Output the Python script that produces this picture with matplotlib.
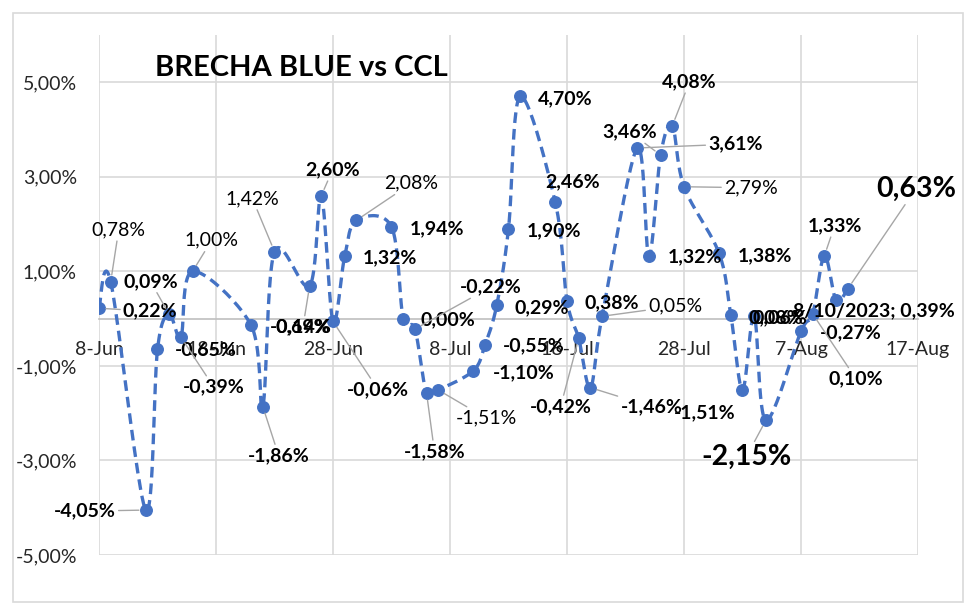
import numpy as np
import pandas as pd
import matplotlib
matplotlib.use('Agg')
import matplotlib.pyplot as plt
import matplotlib.dates as mdates
from matplotlib.patches import Rectangle

plt.rcParams['font.family'] = ['Lato', 'DejaVu Sans']

# datos: brecha blue vs CCL (%)
fechas = ['2023-06-08', '2023-06-09', '2023-06-12', '2023-06-13', '2023-06-14',
          '2023-06-15', '2023-06-16', '2023-06-21', '2023-06-22', '2023-06-23',
          '2023-06-26', '2023-06-27', '2023-06-28', '2023-06-29', '2023-06-30',
          '2023-07-03', '2023-07-04', '2023-07-05', '2023-07-06', '2023-07-07',
          '2023-07-10', '2023-07-11', '2023-07-12', '2023-07-13', '2023-07-14',
          '2023-07-17', '2023-07-18', '2023-07-19', '2023-07-20', '2023-07-21',
          '2023-07-24', '2023-07-25', '2023-07-26', '2023-07-27', '2023-07-28',
          '2023-07-31', '2023-08-01', '2023-08-02', '2023-08-03', '2023-08-04',
          '2023-08-07', '2023-08-08', '2023-08-09', '2023-08-10', '2023-08-11']
brecha = [0.22, 0.78, -4.05, -0.65, 0.09, -0.39, 1.00, -0.14, -1.86, 1.42,
          0.69, 2.60, -0.06, 1.32, 2.08, 1.94, 0.00, -0.22, -1.58, -1.51,
          -1.10, -0.55, 0.29, 1.90, 4.70, 2.46, 0.38, -0.42, -1.46, 0.05,
          3.61, 1.32, 3.46, 4.08, 2.79, 1.38, 0.08, -1.51, 0.06, -2.15,
          -0.27, 0.10, 1.33, 0.39, 0.63]
y_ticks = [-5, -3, -1, 1, 3, 5]
titulo = 'BRECHA BLUE vs CCL'

etiquetas = [('%.2f' % v).replace('.', ',') + '%' for v in brecha]
etiquetas[43] = '8/10/2023; ' + etiquetas[43]

# posicion de cada etiqueta (pixeles respecto al punto), alineacion, negrita, linea guia, tamaño
lbl = [
    (24, -3, 'left', True, True, 14), (-19, 52, 'left', False, True, 14),
    (-30, -1, 'right', True, True, 14), (17, 0, 'left', True, False, 14),
    (-46, 33, 'left', True, True, 14), (2, -50, 'left', True, True, 14),
    (-8, 31, 'left', False, True, 14), (19, -1, 'left', True, False, 14),
    (-15, -49, 'left', True, True, 14), (-49, 53, 'left', False, True, 14),
    (-34, -41, 'left', True, True, 14), (-16, 26, 'left', True, True, 14),
    (14, -68, 'left', True, True, 14), (18, -2, 'left', True, False, 14),
    (28, 37, 'left', False, True, 14), (18, -2, 'left', True, False, 14),
    (17, -1, 'left', True, False, 14), (45, 42, 'left', True, True, 14),
    (-23, -58, 'left', True, True, 14), (17, -28, 'left', False, True, 14),
    (19, -2, 'left', True, False, 14), (18, -1, 'left', True, False, 14),
    (18, -3, 'left', True, False, 14), (18, -2, 'left', True, False, 14),
    (18, -2, 'left', True, False, 14), (-10, 21, 'left', True, False, 14),
    (18, -2, 'left', True, False, 14), (-49, -68, 'left', True, True, 14),
    (30, -19, 'left', True, True, 14), (46, 10, 'left', False, True, 14),
    (71, 4, 'left', True, True, 14), (19, -1, 'left', True, False, 14),
    (-58, 23, 'left', True, True, 14), (-10, 44, 'left', True, True, 14),
    (40, -1, 'left', False, True, 14), (19, -2, 'left', True, False, 14),
    (18, -3, 'left', True, False, 14), (-7, -23, 'right', True, False, 14),
    (-2, -2, 'left', True, False, 14), (-65, -37, 'left', True, True, 20.5),
    (19, -1, 'left', True, False, 14), (16, -65, 'left', True, True, 14),
    (-17, 30, 'left', True, True, 14), (-43, -11, 'left', True, False, 14),
    (28, 100, 'left', True, True, 20.5),
]

azul = '#4472C4'
gris = '#D9D9D9'

fig = plt.figure(figsize=(9.8, 6.13), dpi=100)
fig.patches.append(Rectangle((13 / 980, 11 / 613), 950 / 980, 589 / 613,
                             transform=fig.transFigure, fill=False,
                             edgecolor=gris, lw=1.2))
ax = fig.add_axes([99 / 980, 58 / 613, 819 / 980, 520 / 613])

x = mdates.date2num(pd.to_datetime(fechas))
y = np.array(brecha)

ax.set_xlim(mdates.date2num(pd.Timestamp('2023-06-08')),
            mdates.date2num(pd.Timestamp('2023-08-17')))
ax.set_ylim(-5, 6)

xt = pd.date_range('2023-06-08', '2023-08-17', freq='10D')
ax.set_xticks(mdates.date2num(xt))
ax.set_xticklabels(['%d-%s' % (d.day, d.strftime('%b')) for d in xt])
ax.set_yticks(y_ticks)
ax.set_yticklabels([('%.2f' % v).replace('.', ',') + '%' for v in y_ticks])

for s in ['top', 'right', 'left']:
    ax.spines[s].set_visible(False)
ax.spines['bottom'].set_position(('data', 0))
ax.spines['bottom'].set_color('#BFBFBF')
ax.spines['bottom'].set_linewidth(1.2)
ax.grid(True, color=gris, lw=1.2)
ax.set_axisbelow(True)
ax.tick_params(axis='x', length=0, pad=16, labelsize=14, labelcolor='#262626')
ax.tick_params(axis='y', length=0, pad=16, labelsize=14, labelcolor='#262626')


def curva_suave(P, n=24):
    # bezier tipo excel (catmull-rom) en pixeles
    E = np.vstack([P[0], P, P[-1]])
    t = np.linspace(0, 1, n)[:, None]
    out = []
    for i in range(len(P) - 1):
        p0, p1, p2, p3 = E[i], E[i + 1], E[i + 2], E[i + 3]
        c1 = p1 + (p2 - p0) / 6
        c2 = p2 - (p3 - p1) / 6
        seg = (1 - t)**3 * p1 + 3 * (1 - t)**2 * t * c1 + 3 * (1 - t) * t**2 * c2 + t**3 * p2
        out.append(seg if i == 0 else seg[1:])
    return np.vstack(out)


pix = ax.transData.transform(np.column_stack([x, y]))
curva = ax.transData.inverted().transform(curva_suave(pix))
ax.plot(curva[:, 0], curva[:, 1], color=azul, lw=2.4, ls=(0, (3.2, 1.8)),
        solid_capstyle='butt', dash_capstyle='butt', zorder=3)
ax.plot(x, y, 'o', color=azul, ms=8.3, zorder=4)

for i in range(len(y)):
    dx, dy, ha, negrita, guia, fs = lbl[i]
    kw = {}
    if guia:
        kw['arrowprops'] = dict(arrowstyle='-', color='#A6A6A6', lw=1,
                                shrinkA=0, shrinkB=5)
    ax.annotate(etiquetas[i], (x[i], y[i]), xytext=(dx, dy),
                textcoords='offset pixels', ha=ha, va='center',
                fontsize=fs, fontweight='bold' if negrita else 'normal',
                color='black', zorder=5, **kw)

fig.text(155 / 980, 1 - 68 / 613, titulo, fontsize=21, fontweight='bold',
         ha='left', va='center')

fig.savefig('out.png', dpi=100)
